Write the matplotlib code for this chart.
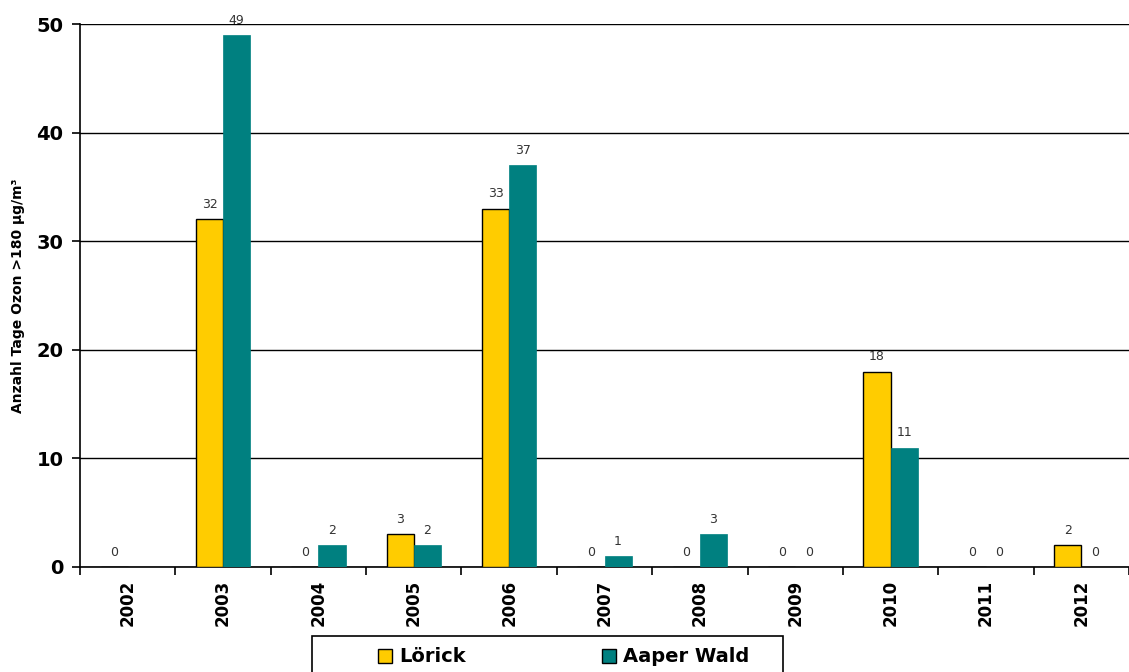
import numpy as np
import matplotlib
matplotlib.use('Agg')
import matplotlib.pyplot as plt
from matplotlib.patches import Rectangle

# Data
years = ['2002', '2003', '2004', '2005', '2006', '2007', '2008', '2009', '2010', '2011', '2012']
loerick = [0, 32, 0, 3, 33, 0, 0, 0, 18, 0, 2]
aaper_wald = [np.nan, 49, 2, 2, 37, 1, 3, 0, 11, 0, 0]  # no value for 2002

yellow = '#FFCC00'
teal = '#008080'

fig = plt.figure(figsize=(11.29, 6.72), dpi=100)
ax = fig.add_axes([80 / 1129, 105 / 672, 1 - 80 / 1129, 543 / 672])

x = np.arange(len(years))
w = 0.285
ax.bar(x - w / 2, loerick, w, color=yellow, edgecolor='black', linewidth=1, label='Lörick', zorder=3)
ax.bar(x + w / 2, aaper_wald, w, color=teal, edgecolor=teal, linewidth=0.5, label='Aaper Wald', zorder=3)

# value labels above bars
for i in range(len(years)):
    for val, off in [(loerick[i], -w / 2), (aaper_wald[i], w / 2)]:
        if np.isnan(val):
            continue
        ax.annotate(str(int(val)), (x[i] + off, val), xytext=(0, 6), textcoords='offset points',
                    ha='center', va='bottom', fontsize=9, color='#333333')

ax.set_ylim(0, 50)
ax.set_xlim(-0.5, (1129 - 80) / 96 - 0.5)
ax.set_yticks([0, 10, 20, 30, 40, 50])
ax.set_yticklabels(['0', '10', '20', '30', '40', '50'], fontsize=14, fontweight='bold')
ax.yaxis.grid(True, color='black', linewidth=1, zorder=0)
ax.set_axisbelow(True)

# category ticks at boundaries, labels at centres
ax.set_xticks(np.arange(len(years) + 1) - 0.5)
ax.set_xticklabels([])
ax.set_xticks(x, minor=True)
ax.set_xticklabels(years, minor=True, rotation=90, fontsize=12, fontweight='bold')
ax.tick_params(axis='x', which='minor', length=0, pad=9)
ax.tick_params(axis='x', which='major', length=6, width=1.2, direction='out')
ax.tick_params(axis='y', length=6, width=1.2, direction='out', pad=6)

for s in ['top', 'right']:
    ax.spines[s].set_visible(False)
ax.spines['left'].set_linewidth(1.2)
ax.spines['bottom'].set_linewidth(1.2)

ax.set_ylabel('Anzahl Tage Ozon >180 µg/m³', fontsize=10, fontweight='bold', labelpad=8)

# legend box (cut off at the bottom like the original)
fig.patches.append(Rectangle((312 / 1129, -0.05), 471 / 1129, 0.05 + 36 / 672,
                             transform=fig.transFigure, fill=False, edgecolor='black', linewidth=1.2))
leg = fig.legend(loc='center left', bbox_to_anchor=(362 / 1129, 1 - 657 / 672),
                 ncol=2, frameon=False, prop={'weight': 'bold', 'size': 14},
                 handlelength=0.75, handleheight=0.75, handletextpad=0.35, borderpad=0.3,
                 columnspacing=7.0)
for h in leg.legend_handles:
    h.set_edgecolor('black')
    h.set_linewidth(1)

fig.savefig('out.png', dpi=100)
